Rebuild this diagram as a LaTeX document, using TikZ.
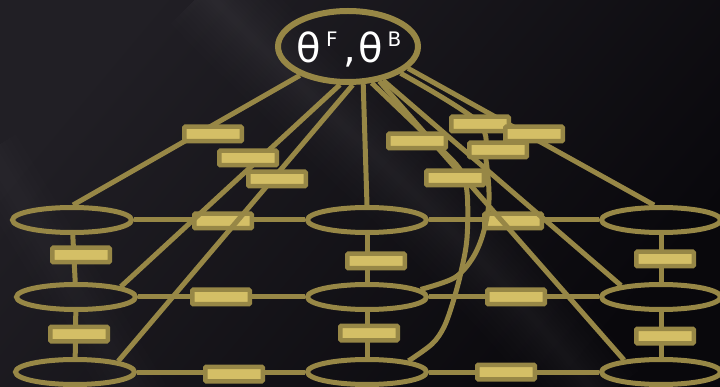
\documentclass[tikz,border=0pt]{standalone}
\usepackage{fontspec}
\newfontfamily\thetafont{DejaVu Sans}
\usetikzlibrary{shapes.geometric,calc}

\definecolor{bgdark}{HTML}{09080C}
\definecolor{bgmid}{HTML}{211F25}
\definecolor{olivegold}{HTML}{978746}
\definecolor{facfill}{HTML}{D4BF66}

\begin{document}
\begin{tikzpicture}[x=1pt,y=-1pt,
  link/.style={draw=olivegold,line width=5pt},
  var/.style={ellipse,draw=olivegold,line width=5pt,minimum width=119pt,minimum height=25pt,inner sep=0pt},
  param/.style={ellipse,draw=olivegold,line width=6pt,minimum width=140pt,minimum height=71pt,inner sep=0pt},
  fac/.style={rectangle,draw=olivegold,fill=facfill,line width=4.5pt,minimum width=57.5pt,minimum height=14.5pt,inner sep=0pt,rounded corners=1pt}]
\useasboundingbox (0,0) rectangle (720,387);

% dark backdrop with a soft diagonal sheen
\fill[bgdark] (0,0) rectangle (720,387);
\shade[top color=bgmid, bottom color=bgdark, shading angle=50] (0,0) rectangle (720,387);
\foreach \w in {96,84,72,62,52,43,35,27,20,13,7}
  \draw[white,opacity=0.008,line width=\w pt] (205,-10) .. controls (330,120) and (480,240) .. (600,400);
\foreach \w in {60,46,34,24,14}
  \draw[white,opacity=0.008,line width=\w pt] (-10,150) -- (140,400);

% global parameter node
\node[param] (theta) at (348,46.5) {};
\node[text=white,anchor=base,inner sep=0pt] (thetalabel) at (349,63)
  {\thetafont\fontsize{40}{40}\selectfont θ\kern5pt\raisebox{16pt}{\fontsize{20}{20}\selectfont F}\kern6pt,\kern2pt θ\kern5pt\raisebox{16.5pt}{\fontsize{20}{20}\selectfont B}};

% 3x3 grid of variables
\node[var] (L1) at (72,220) {};
\node[var] (M1) at (367,220) {};
\node[var] (R1) at (661,220) {};
\node[var] (L2) at (76,297) {};
\node[var] (M2) at (367,297) {};
\node[var] (R2) at (661,297) {};
\node[var] (L3) at (75,372) {};
\node[var] (M3) at (367,372) {};
\node[var] (R3) at (661,372) {};

% pairwise wires of the grid
\draw[link] (L1) -- (M1);
\draw[link] (M1) -- (R1);
\draw[link] (L2) -- (M2);
\draw[link] (M2) -- (R2);
\draw[link] (L3) -- (M3);
\draw[link] (M3) -- (R3);
\draw[link] (L1) -- (L2);
\draw[link] (L2) -- (L3);
\draw[link] (M1) -- (M2);
\draw[link] (M2) -- (M3);
\draw[link] (R1) -- (R2);
\draw[link] (R2) -- (R3);

% pairwise factors
\node[fac] (h11) at (223,221) {};
\node[fac] (h12) at (513,221) {};
\node[fac] (h21) at (221,297) {};
\node[fac] (h22) at (516,297) {};
\node[fac] (h31) at (234,374) {};
\node[fac] (h32) at (506,372) {};
\node[fac] (v11) at (81,255) {};
\node[fac] (v12) at (79,334) {};
\node[fac] (v21) at (376,261) {};
\node[fac] (v22) at (369,333) {};
\node[fac] (v31) at (665,259) {};
\node[fac] (v32) at (665,336) {};

% wires from the parameters to the variables
\draw[link] (theta.211) -- (L1.86);
\draw[link] (theta.258) -- (L2.13);
\draw[link] (theta.277) -- (L3.14);
\draw[link] (theta.292) -- (M1.north);
\draw[link] (theta.340) -- (R1.115);
\draw[link] (theta.316) -- (R2.164);
\draw[link] (theta.312) -- (R3.162);
\draw[link] plot[smooth,tension=0.55] coordinates
  {(theta.303) (427,136) (459,168) (467,192) (467,238) (461,272) (453,302) (444,327) (432,344) (M3.15)};
\draw[link] plot[smooth,tension=0.55] coordinates
  {(theta.333) (478,122) (486,160) (489,200) (483,234) (472,259) (454,278) (M2.8)};

% unary factors tied to the parameters
\node[fac] (A) at (213,134) {};
\node[fac] (B) at (248,158) {};
\node[fac] (C) at (277,179) {};
\node[fac] (D) at (417,141) {};
\node[fac] (H) at (455,178) {};
\node[fac] (E) at (480,124) {};
\node[fac] (F) at (534,134) {};
\node[fac] (G) at (498,150) {};
\end{tikzpicture}
\end{document}
